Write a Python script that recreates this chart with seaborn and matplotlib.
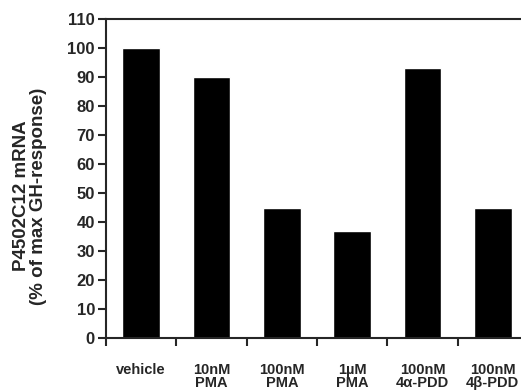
import numpy as np
import pandas as pd
import seaborn as sns
import matplotlib.pyplot as plt

# data
treatments = ["vehicle", "10nM\nPMA", "100nM\nPMA", "1\u00b5M\nPMA", "100nM\n4\u03b1-PDD", "100nM\n4\u03b2-PDD"]
mrna_pct = [100, 90, 45, 37, 93, 45]
yticks = list(range(0, 111, 10))

df = pd.DataFrame({"treatment": treatments, "mrna": mrna_pct})

sns.set_style("ticks")
plt.rcParams["font.family"] = ["Liberation Sans", "DejaVu Sans"]
plt.rcParams["font.weight"] = "bold"

fig = plt.figure(figsize=(5.21, 3.91), dpi=100)
ax = fig.add_axes([106 / 521, 53 / 391, 422 / 521, 319 / 391])

sns.barplot(data=df, x="treatment", y="mrna", color="black", width=0.54,
            saturation=1, ax=ax)

ax.set_xlim(-0.5, 5.5)
ax.set_ylim(0, 110)
ax.set_yticks(yticks)
ax.set_yticklabels([str(t) for t in yticks], fontsize=12, fontweight="bold")
ax.tick_params(axis="y", direction="out", length=6, width=1.5, pad=2)

# ticks sit between the bars, labels under the bars
ax.set_xticks(np.arange(len(treatments)) - 0.5)
ax.set_xticklabels([])
ax.tick_params(axis="x", which="major", direction="out", length=6, width=1.5)
ax.set_xticks(np.arange(len(treatments)), minor=True)
ax.set_xticklabels(treatments, minor=True, fontsize=10.5, fontweight="bold",
                   linespacing=0.95)
ax.tick_params(axis="x", which="minor", length=0, pad=18)

for side in ["left", "bottom", "top"]:
    ax.spines[side].set_linewidth(1.5)
ax.spines["right"].set_visible(False)

ax.set_xlabel("")
ax.set_ylabel("P4502C12 mRNA\n(% of max GH-response)", fontsize=13.5,
              fontweight="bold", linespacing=1.0)
ax.yaxis.set_label_coords(-0.139, 0.445)

fig.savefig("out.png", dpi=100)
